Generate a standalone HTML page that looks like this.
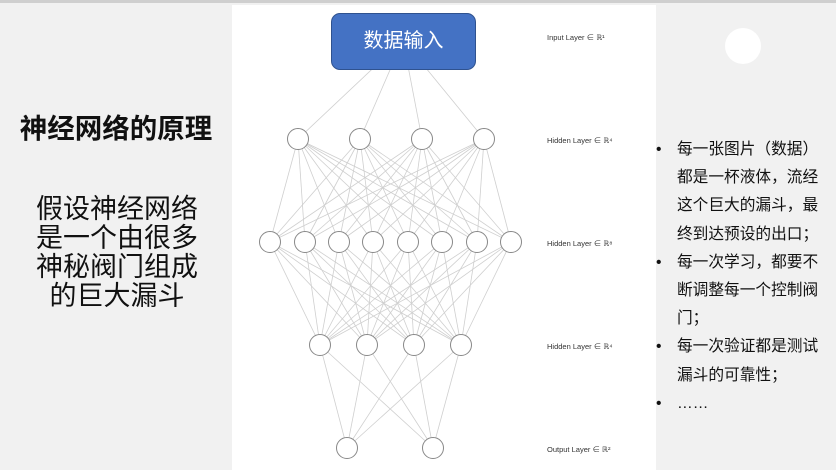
<!DOCTYPE html>
<html><head><meta charset="utf-8"><style>
body{margin:0;width:836px;height:470px;overflow:hidden;background:#f1f1f1;position:relative;font-family:"Liberation Sans","Noto Sans CJK SC",sans-serif}
.top{position:absolute;left:0;top:0;width:836px;height:3px;background:#cfcfcf}
.panel{position:absolute;left:232px;top:5px;width:424px;height:465px;background:#fff}
.title{position:absolute;left:0;width:232px;top:106px;text-align:center;font-size:27.5px;font-weight:bold;color:#111}
.body{position:absolute;left:0;width:234px;top:195px;text-align:center;font-size:27px;line-height:29px;color:#111}
.bul{position:absolute;left:656px;top:136px;width:180px;font-size:15.7px;line-height:28.2px;color:#111}
.bul div{position:relative;padding-left:21px}
.bul div::before{content:"•";position:absolute;left:0;top:0}
.lbl{position:absolute;left:547px;font-size:7.5px;color:#333}
.circ{position:absolute;left:725px;top:28px;width:36px;height:36px;border-radius:50%;background:#fff}
</style></head><body>
<div class="top"></div>
<div class="circ"></div>
<div class="panel"></div>
<svg style="position:absolute;left:0;top:0" width="836" height="470" id="s"></svg>
<div style="position:absolute;left:331px;top:13px;width:143px;height:55px;background:#4472c4;border:1.5px solid #2f528f;border-radius:9px;color:#fff;font-size:20px;text-align:center;line-height:55px">数据输入</div>
<div class="lbl" style="top:32px">Input Layer ∈ ℝ¹</div>
<div class="lbl" style="top:135px">Hidden Layer ∈ ℝ⁴</div>
<div class="lbl" style="top:238px">Hidden Layer ∈ ℝ⁸</div>
<div class="lbl" style="top:341px">Hidden Layer ∈ ℝ⁴</div>
<div class="lbl" style="top:444px">Output Layer ∈ ℝ²</div>
<div class="title">神经网络的原理</div>
<div class="body">假设神经网络<br>是一个由很多<br>神秘阀门组成<br>的巨大漏斗</div>
<div class="bul">
<div>每一张图片（数据）<br>都是一杯液体，流经<br>这个巨大的漏斗，最<br>终到达预设的出口；</div>
<div>每一次学习，都要不<br>断调整每一个控制阀<br>门；</div>
<div>每一次验证都是测试<br>漏斗的可靠性；</div>
<div>……</div>
</div>
<script>
var L=[[[403,40]],[[298,139],[360,139],[422,139],[484,139]],
[[270,242],[305,242],[339,242],[373,242],[408,242],[442,242],[477,242],[511,242]],
[[320,345],[367,345],[414,345],[461,345]],[[347,448],[433,448]]];
var h='';
for(var i=0;i<4;i++)for(var a of L[i])for(var b of L[i+1])h+='<line x1="'+a[0]+'" y1="'+a[1]+'" x2="'+b[0]+'" y2="'+b[1]+'" stroke="#cfcfcf" stroke-width="0.8"/>';
for(var i=1;i<5;i++)for(var a of L[i])h+='<circle cx="'+a[0]+'" cy="'+a[1]+'" r="10.5" fill="#fff" stroke="#888" stroke-width="1"/>';
document.getElementById('s').innerHTML=h;
</script>
</body></html>
